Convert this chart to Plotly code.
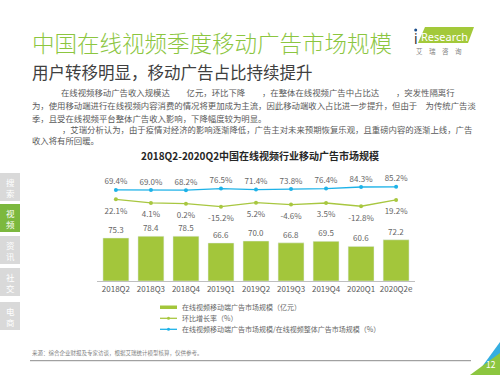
import plotly.graph_objects as go

categories = ["2018Q2", "2018Q3", "2018Q4", "2019Q1", "2019Q2", "2019Q3", "2019Q4", "2020Q1", "2020Q2e"]
ad_revenue = [75.3, 78.4, 78.5, 66.6, 70.0, 66.8, 69.5, 60.6, 72.2]
qoq_growth = [22.1, 4.1, 0.2, -15.2, 5.2, -4.6, 3.5, -12.8, 19.2]
mobile_share = [69.4, 69.0, 68.2, 76.5, 71.4, 73.8, 76.4, 84.3, 85.2]

legend_names = ["在线视频移动端广告市场规模（亿元）", "环比增长率（%）",
                "在线视频移动端广告市场规模/在线视频整体广告市场规模（%）"]
side_tabs = ["搜索", "视频", "资讯", "社交", "电商"]

W, H = 500, 375
L, R, T, B = 97, 85, 165, 94
PW, PH = W - L - R, H - T - B
FONT = "Noto Sans CJK SC, Noto Sans, sans-serif"
BAR_C = "#a3c63b"
GREEN_L = "#a8c740"
BLUE_L = "#1db2e8"
TITLE_G = "#8cc63f"
GRAY_T = "#595959"
LABEL_C = "#666666"

bar_max = PH / 0.571
zero_px = 203.7
k = 0.198  # px per unit on secondary axis
y2_lo = -(H - B - zero_px) / k
y2_hi = (zero_px - T) / k
label_gap = 12.4 / k  # green labels sit ~12px below their points


def px(x):
    return (x - L) / PW


def py(y):
    return (H - B - y) / PH


fig = go.Figure()
fig.add_trace(go.Bar(
    x=categories, y=ad_revenue, marker_color=BAR_C, name=legend_names[0],
    texttemplate="%{y:.1f}", textposition="outside", cliponaxis=False,
    textfont=dict(size=8, color=LABEL_C, family=FONT), showlegend=False))
fig.add_trace(go.Scatter(
    x=categories, y=qoq_growth, yaxis="y2", mode="lines+markers",
    line=dict(color=GREEN_L, width=1.3), marker=dict(size=4, color=GREEN_L),
    name=legend_names[1], showlegend=False))
fig.add_trace(go.Scatter(
    x=categories, y=[v - label_gap for v in qoq_growth], yaxis="y2", mode="text",
    text=[f"{v:.1f}%" for v in qoq_growth], textposition="middle center",
    textfont=dict(size=8, color=LABEL_C, family=FONT), cliponaxis=False,
    showlegend=False, hoverinfo="skip"))
fig.add_trace(go.Scatter(
    x=categories, y=mobile_share, yaxis="y2", mode="lines+markers+text",
    line=dict(color=BLUE_L, width=1.3), marker=dict(size=4, color=BLUE_L),
    text=[f"{v:.1f}%" for v in mobile_share], textposition="top center",
    textfont=dict(size=8, color=LABEL_C, family=FONT), cliponaxis=False,
    name=legend_names[2], showlegend=False))

ann = []
shapes = []


def text(x, y, s, size, color=GRAY_T, xanchor="left", yanchor="middle", family=FONT, weight=None):
    f = dict(size=size, color=color, family=family)
    if weight:
        f["weight"] = weight
    ann.append(dict(x=px(x), y=py(y), xref="paper", yref="paper", text=s, showarrow=False,
                    xanchor=xanchor, yanchor=yanchor, align="left", font=f))


def rect(x0, y0, x1, y1, color):
    shapes.append(dict(type="rect", xref="paper", yref="paper",
                       x0=px(x0), x1=px(x1), y0=py(y1), y1=py(y0),
                       fillcolor=color, line=dict(width=0), layer="above"))


def path(pts, color):
    d = "M " + " L ".join(f"{px(a):.5f},{py(b):.5f}" for a, b in pts) + " Z"
    shapes.append(dict(type="path", xref="paper", yref="paper", path=d,
                       fillcolor=color, line=dict(width=0), layer="above"))


# Titles
text(30, 42, "中国在线视频季度移动广告市场规模", 22.5, TITLE_G, weight=300)
text(30, 72, "用户转移明显，移动广告占比持续提升", 16.5, "#404040")

# Body text
bs = 8.4
text(59, 92, "在线视频移动广告收入规模达　　亿元，环比下降　　，在整体在线视频广告中占比达　　，突发性隔离行", bs)
text(30, 105, "为，使用移动端进行在线视频内容消费的情况将更加成为主流，因此移动端收入占比进一步提升，但由于　为传统广告淡", bs)
text(30, 117.5, "季，且受在线视频平台整体广告收入影响，下降幅度较为明显。", bs)
text(60, 129, "，艾瑞分析认为，由于疫情对经济的影响逐渐降低，广告主对未来预期恢复乐观，且重磅内容的逐渐上线，广告", bs)
text(30, 140, "收入将有所回暖。", bs)

# Chart title
text(260, 155, "<b>2018Q2-2020Q2中国在线视频行业移动广告市场规模</b>", 10, "#262626", xanchor="center")

# Manual legend
rect(160, 305.5, 177, 309, BAR_C)
text(180, 307.3, legend_names[0], 7, "#666666")
shapes.append(dict(type="line", xref="paper", yref="paper", x0=px(160), x1=px(177),
                   y0=py(318.3), y1=py(318.3), line=dict(color=GREEN_L, width=1.3), layer="above"))
shapes.append(dict(type="circle", xref="paper", yref="paper", x0=px(167), x1=px(170),
                   y0=py(319.8), y1=py(316.8), fillcolor=GREEN_L, line=dict(width=0), layer="above"))
text(180, 318.3, legend_names[1], 7, "#666666")
shapes.append(dict(type="line", xref="paper", yref="paper", x0=px(160), x1=px(177),
                   y0=py(329.3), y1=py(329.3), line=dict(color=BLUE_L, width=1.3), layer="above"))
shapes.append(dict(type="circle", xref="paper", yref="paper", x0=px(167), x1=px(170),
                   y0=py(330.8), y1=py(327.8), fillcolor=BLUE_L, line=dict(width=0), layer="above"))
text(180, 329.3, legend_names[2], 7, "#666666")

# Sidebar tabs
tab_y = [(173, 201), (204, 232), (236, 264), (268, 296), (302, 330)]
for i, (name, (y0, y1)) in enumerate(zip(side_tabs, tab_y)):
    rect(0, y0, 20, y1, "#7cb83e" if i == 1 else "#d9d9d9")
    text(10, (y0 + y1) / 2, name[0] + "<br>" + name[1], 8.5, "white", xanchor="center")

# Source and footer line
text(30, 352.7, "来源：综合企业财报及专家访谈，根据艾瑞统计模型核算，仅供参考。", 5.5, "#7f7f7f")
shapes.append(dict(type="line", xref="paper", yref="paper", x0=px(30), x1=px(471),
                   y0=py(360.7), y1=py(360.7), line=dict(color="#8c8c8c", width=1), layer="above"))

# Corner decoration
path([(476, 375), (500, 342), (500, 375)], "#35aee0")
path([(470, 375), (500, 353), (500, 375)], "#8cc63f")
text(491, 364, "12", 8.5, "white", xanchor="center")

# iResearch logo
path([(418, 43), (425, 27), (474, 27), (468, 43)], "#a3c93a")
text(415.7, 38, "i", 14, "#2f2f2f", xanchor="center", family="Noto Sans, sans-serif")
shapes.append(dict(type="circle", xref="paper", yref="paper", x0=px(414.2), x1=px(417.2),
                   y0=py(31.5), y1=py(28.5), fillcolor="#1d4f8c", line=dict(width=0), layer="above"))
text(444, 36.5, "Research", 11, "white", xanchor="center", family="Noto Sans, sans-serif")
text(439, 50.5, "艾　瑞　咨　询", 6.5, "#7f7f7f", xanchor="center")

fig.update_layout(
    width=W, height=H, margin=dict(l=L, r=R, t=T, b=B, autoexpand=False),
    paper_bgcolor="white", plot_bgcolor="white",
    font=dict(family=FONT, color=GRAY_T),
    bargap=0.26,
    xaxis=dict(showline=True, linecolor="#bfbfbf", linewidth=1, ticks="",
               tickfont=dict(size=8, color=GRAY_T, family=FONT), showgrid=False, zeroline=False),
    yaxis=dict(range=[0, bar_max], visible=False, showgrid=False, zeroline=False),
    yaxis2=dict(range=[y2_lo, y2_hi], overlaying="y", visible=False, showgrid=False, zeroline=False),
    annotations=ann, shapes=shapes, showlegend=False,
)

fig.write_html("out.html", config={"displayModeBar": False},
               post_script="document.body.style.margin='0';document.body.style.padding='0';"
                           "document.documentElement.style.overflow='hidden';")
